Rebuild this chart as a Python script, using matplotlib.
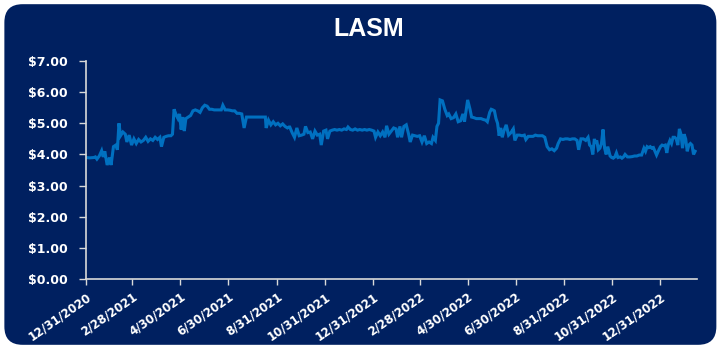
import matplotlib
matplotlib.use("Agg")
import matplotlib.pyplot as plt
from matplotlib.patches import FancyBboxPatch
import pandas as pd

title = "LASM"
start_date = "2020-12-31"

# days after start date, and closing price
days = [0, 5, 10, 12, 14, 17, 20, 22, 24, 27, 30, 32, 35, 38, 40, 42, 44, 47, 50, 52,
        55, 58, 61, 64, 67, 70, 73, 76, 79, 82, 85, 88, 91, 94, 96, 99, 102, 105, 108, 110,
        112, 115, 117, 119, 121, 123, 125, 127, 130, 133, 136, 139, 142, 145, 148, 151, 154, 157,
        160, 163, 166, 169, 172, 174, 177, 180, 183, 186, 189, 192, 195, 198, 201, 204, 207,
        210, 214, 218, 222, 226, 228, 229, 232, 235, 238, 241, 244, 247, 250, 253, 256, 258,
        259, 262, 265, 268, 271, 274, 277, 279, 282, 285, 288, 291, 294, 297, 299, 302, 305,
        307, 310, 313, 316, 319, 322, 325, 328, 331, 333, 336, 339, 342, 345, 348, 351, 354,
        357, 360, 363, 366, 368, 371, 374, 377, 380, 382, 385, 388, 391, 394, 396, 399, 401,
        404, 407, 410, 412, 415, 418, 421, 424, 427, 430, 433, 436, 439, 441, 444, 446, 448,
        450, 453, 456, 459, 461, 464, 467, 470, 473, 476, 479, 481, 483, 485, 488, 490, 493,
        496, 499, 502, 505, 508, 510, 513, 515, 517, 519, 521, 523, 525, 527, 529, 531, 534,
        537, 540, 543, 545, 548, 551, 554, 557, 559, 562, 565, 568, 571, 574, 577, 580, 583,
        586, 589, 592, 595, 598, 600, 603, 606, 609, 612, 615, 618, 621, 624, 626, 629, 632,
        635, 638, 640, 642, 644, 646, 647, 649, 651, 653, 655, 657, 659, 661, 663, 666, 668,
        670, 672, 674, 676, 679, 681, 683, 685, 688, 691, 694, 697, 700, 703, 706, 709, 711,
        713, 715, 717, 719, 721, 723, 725, 728, 730, 732, 734, 736, 738, 740, 742, 744, 746,
        748, 750, 752, 754, 756, 758, 760, 762, 764, 766, 768, 770, 772, 774]

prices = [3.90, 3.89, 3.90, 3.92, 3.85, 3.95, 4.12, 3.92, 4.10, 3.66, 3.90, 3.66, 4.25, 4.30, 4.15, 5.00, 4.60, 4.72, 4.65, 4.40,
          4.62, 4.30, 4.50, 4.35, 4.48, 4.40, 4.45, 4.55, 4.42, 4.50, 4.45, 4.55, 4.48, 4.55, 4.25, 4.55, 4.58, 4.60, 4.60, 4.65,
          5.45, 5.25, 5.15, 5.30, 4.80, 5.20, 4.75, 5.15, 5.20, 5.25, 5.40, 5.43, 5.40, 5.35, 5.50, 5.58, 5.55, 5.45,
          5.45, 5.43, 5.43, 5.43, 5.43, 5.58, 5.43, 5.43, 5.42, 5.40, 5.40, 5.32, 5.32, 5.30, 4.85, 5.20, 5.20,
          5.20, 5.20, 5.20, 5.20, 5.20, 5.20, 4.85, 5.10, 4.95, 5.05, 4.95, 5.00, 4.92, 4.98, 4.90, 4.85, 4.88,
          4.88, 4.70, 4.55, 4.85, 4.60, 4.62, 4.65, 4.90, 4.70, 4.72, 4.50, 4.75, 4.62, 4.65, 4.30, 4.75, 4.78,
          4.50, 4.75, 4.78, 4.80, 4.78, 4.80, 4.78, 4.82, 4.80, 4.88, 4.80, 4.78, 4.82, 4.78, 4.80, 4.78, 4.80,
          4.78, 4.80, 4.78, 4.75, 4.55, 4.72, 4.60, 4.72, 4.55, 4.92, 4.65, 4.75, 4.85, 4.82, 4.55, 4.90, 4.55,
          4.90, 4.95, 4.65, 4.40, 4.62, 4.60, 4.58, 4.60, 4.40, 4.60, 4.35, 4.40, 4.35, 4.55, 4.45, 4.90, 5.00,
          5.75, 5.72, 5.45, 5.25, 5.30, 5.15, 5.18, 5.30, 5.05, 5.08, 5.30, 5.05, 5.40, 5.75, 5.45, 5.20, 5.18,
          5.15, 5.15, 5.15, 5.12, 5.10, 5.05, 5.35, 5.45, 5.43, 5.40, 5.15, 5.00, 4.60, 4.85, 4.55, 4.75, 4.95,
          4.62, 4.70, 4.82, 4.45, 4.62, 4.62, 4.60, 4.62, 4.48, 4.58, 4.58, 4.58, 4.62, 4.60, 4.60, 4.60, 4.55,
          4.25, 4.15, 4.18, 4.12, 4.20, 4.35, 4.50, 4.48, 4.50, 4.50, 4.48, 4.50, 4.50, 4.45, 4.15, 4.50, 4.50,
          4.45, 4.55, 4.30, 4.25, 4.00, 4.50, 4.35, 4.45, 4.15, 4.20, 4.35, 4.80, 4.20, 4.00, 4.25, 3.95, 3.90,
          3.88, 3.92, 4.05, 3.90, 3.92, 3.88, 3.92, 4.00, 3.92, 3.92, 3.93, 3.95, 3.95, 3.98, 3.98, 4.20, 4.10,
          4.25, 4.22, 4.25, 4.20, 4.22, 4.10, 3.98, 4.15, 4.25, 4.30, 4.28, 4.30, 4.05, 4.32, 4.45, 4.35, 4.55,
          4.55, 4.50, 4.30, 4.82, 4.65, 4.20, 4.65, 4.50, 4.10, 4.30, 4.35, 4.30, 4.00, 4.10]

tick_dates = ["2020-12-31", "2021-02-28", "2021-04-30", "2021-06-30", "2021-08-31", "2021-10-31",
              "2021-12-31", "2022-02-28", "2022-04-30", "2022-06-30", "2022-08-31", "2022-10-31",
              "2022-12-31"]
y_ticks = [0, 1, 2, 3, 4, 5, 6, 7]

NAVY = "#002060"
BLUE = "#0070C0"
AXC = "#D9D9D9"

dates = pd.to_datetime(start_date) + pd.to_timedelta(days, unit="D")
tdates = pd.to_datetime(tick_dates)

fig = plt.figure(figsize=(7.28, 3.49), dpi=100)
fig.patch.set_facecolor("white")
panel = FancyBboxPatch((0.006, 0.012), 0.978, 0.976,
                       boxstyle="round,pad=0,rounding_size=0.025",
                       transform=fig.transFigure, facecolor=NAVY, edgecolor="none",
                       mutation_aspect=728 / 349, zorder=-5)
fig.patches.append(panel)

ax = fig.add_axes([0.118, 0.2006, 0.839, 0.6246])
ax.set_zorder(2)
ax.set_facecolor("none")
ax.plot(dates, prices, color=BLUE, lw=2.2, solid_joinstyle="miter")

ax.set_ylim(0, 7)
ax.set_xlim(pd.Timestamp("2020-12-31"), pd.Timestamp("2023-02-15"))
ax.set_yticks(y_ticks)
ax.set_yticklabels([f"${v:.2f}" for v in y_ticks])
ax.set_xticks(tdates)
ax.set_xticklabels([f"{d.month}/{d.day}/{d.year}" for d in tdates],
                   rotation=35, ha="right", rotation_mode="anchor")

for s in ["top", "right"]:
    ax.spines[s].set_visible(False)
for s in ["left", "bottom"]:
    ax.spines[s].set_color(AXC)
    ax.spines[s].set_linewidth(1.2)

ax.tick_params(axis="y", colors=AXC, length=5, width=1.0, pad=8)
ax.tick_params(axis="x", colors=AXC, length=4, width=1.0, pad=4)
for lab in ax.get_yticklabels():
    lab.set_color("white")
    lab.set_fontweight("bold")
    lab.set_fontsize(9)
    lab.set_family("DejaVu Sans")
for lab in ax.get_xticklabels():
    lab.set_color("white")
    lab.set_fontweight("bold")
    lab.set_fontsize(8.5)
    lab.set_family("DejaVu Sans")

fig.text(0.507, 0.918, title, color="white", fontsize=18, fontweight="bold",
         ha="center", va="center", family=["Liberation Sans", "DejaVu Sans"],
         zorder=3)

fig.savefig("out.png", dpi=100, facecolor=fig.get_facecolor())
